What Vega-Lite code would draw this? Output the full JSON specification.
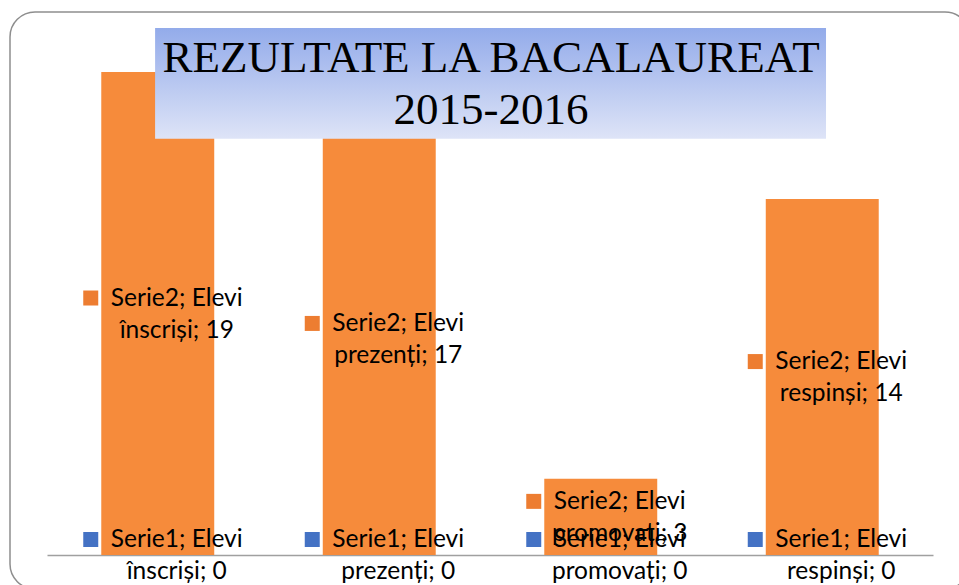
{
  "$schema": "https://vega.github.io/schema/vega-lite/v6.json",
  "autosize": {"type": "none"},
  "padding": {"left": 10, "top": 12, "right": -11, "bottom": -4},
  "width": 960,
  "height": 577,
  "background": "#ffffff",
  "config": {
    "view": {"stroke": "#8E8E8E", "strokeWidth": 1.5, "cornerRadius": 25, "fill": "#ffffff"}
  },
  "title": {
    "text": ["REZULTATE LA BACALAUREAT", "2015-2016"],
    "font": "Liberation Serif",
    "fontSize": 45,
    "fontWeight": "normal",
    "color": "#000000",
    "lineHeight": 52,
    "anchor": "middle",
    "frame": "group",
    "baseline": "alphabetic",
    "orient": "top",
    "offset": -157,
    "dx": 1
  },
  "datasets": {
    "results": [
      {"category": "Elevi înscriși", "series": "Serie1", "value": 0, "label": "Serie1; Elevi\nînscriși; 0"},
      {"category": "Elevi prezenți", "series": "Serie1", "value": 0, "label": "Serie1; Elevi\nprezenți; 0"},
      {"category": "Elevi promovați", "series": "Serie1", "value": 0, "label": "Serie1; Elevi\npromovați; 0"},
      {"category": "Elevi respinși", "series": "Serie1", "value": 0, "label": "Serie1; Elevi\nrespinși; 0"},
      {"category": "Elevi înscriși", "series": "Serie2", "value": 19, "label": "Serie2; Elevi\nînscriși; 19"},
      {"category": "Elevi prezenți", "series": "Serie2", "value": 17, "label": "Serie2; Elevi\nprezenți; 17"},
      {"category": "Elevi promovați", "series": "Serie2", "value": 3, "label": "Serie2; Elevi\npromovați; 3"},
      {"category": "Elevi respinși", "series": "Serie2", "value": 14, "label": "Serie2; Elevi\nrespinși; 14"}
    ],
    "titlebox": [
      {"name": "title"}
    ]
  },
  "layer": [
    {
      "data": {"name": "results"},
      "encoding": {
        "x": {
          "field": "category",
          "type": "nominal",
          "sort": ["Elevi înscriși", "Elevi prezenți", "Elevi promovați", "Elevi respinși"],
          "scale": {"range": [37, 923], "paddingInner": 0.49, "paddingOuter": 0.245},
          "axis": {
            "title": null,
            "labels": false,
            "ticks": false,
            "grid": false,
            "domain": true,
            "domainColor": "#A0A0A0",
            "domainWidth": 1.5,
            "offset": -34
          }
        }
      },
      "layer": [
        {
          "mark": {"type": "bar"},
          "encoding": {
            "y": {
              "field": "value",
              "type": "quantitative",
              "stack": "zero",
              "scale": {"domain": [0, 20], "range": [543, 34.6], "nice": false, "zero": true},
              "axis": null
            },
            "color": {
              "field": "series",
              "type": "nominal",
              "scale": {"domain": ["Serie1", "Serie2"], "range": ["#4472C4", "#F68B3B"]},
              "legend": null
            },
            "order": {"field": "series", "type": "ordinal", "sort": "ascending"}
          }
        },
        {
          "mark": {"type": "point", "shape": "square", "filled": true, "size": 225, "opacity": 1, "xOffset": -67, "yOffset": -15.5},
          "encoding": {
            "y": {"field": "value", "type": "quantitative", "stack": "zero", "bandPosition": 0.5},
            "fill": {
              "field": "series",
              "type": "nominal",
              "scale": {"domain": ["Serie1", "Serie2"], "range": ["#4472C4", "#ED7D31"]},
              "legend": null
            },
            "detail": {"field": "series"},
            "order": {"field": "series", "type": "ordinal", "sort": "ascending"}
          }
        },
        {
          "mark": {"type": "text", "font": "Lato", "fontSize": 24.5, "lineHeight": 32, "lineBreak": "\n", "align": "center", "baseline": "alphabetic", "dx": 19, "dy": -8, "color": "#000000"},
          "encoding": {
            "y": {"field": "value", "type": "quantitative", "stack": "zero", "bandPosition": 0.5},
            "text": {"field": "label"},
            "detail": {"field": "series"},
            "order": {"field": "series", "type": "ordinal", "sort": "ascending"}
          }
        }
      ]
    },
    {
      "data": {"name": "titlebox"},
      "mark": {
        "type": "rect",
        "fill": {
          "gradient": "linear", "x1": 0, "y1": 0, "x2": 0, "y2": 1,
          "stops": [{"offset": 0, "color": "#93ABEA"}, {"offset": 1, "color": "#DEE4F7"}]
        }
      },
      "encoding": {
        "x": {"datum": 0.488, "type": "quantitative", "scale": {"domain": [0, 4], "range": [37, 923], "nice": false, "zero": false}, "axis": null},
        "x2": {"datum": 3.517},
        "y": {"datum": 20.73, "type": "quantitative"},
        "y2": {"datum": 16.37}
      }
    }
  ],
  "resolve": {"scale": {"x": "independent"}}
}
